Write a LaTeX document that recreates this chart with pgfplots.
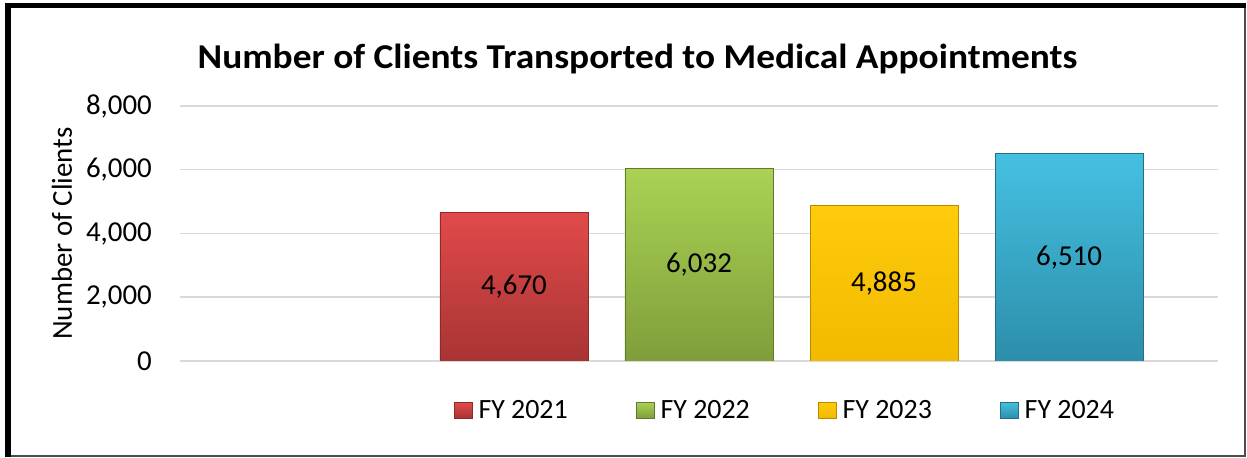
\documentclass[border=0pt]{standalone}
\usepackage{pgfplots}
\pgfplotsset{compat=1.18}
\usepackage{fontspec}
\setmainfont{Carlito}
\newfontfamily\titlefont{Carlito}[FakeStretch=1.072]
\definecolor{gridc}{HTML}{D9D9D9}
\definecolor{rtop}{HTML}{E24A4A}\definecolor{rbot}{HTML}{A83434}\definecolor{rdr}{HTML}{8C2A2A}
\definecolor{gtop}{HTML}{AAD254}\definecolor{gbot}{HTML}{7F9E3A}\definecolor{gdr}{HTML}{5F7A2A}
\definecolor{ytop}{HTML}{FFCB0A}\definecolor{ybot}{HTML}{F2BA00}\definecolor{ydr}{HTML}{B88A00}
\definecolor{btop}{HTML}{45C0E2}\definecolor{bbot}{HTML}{2C8EAA}\definecolor{bdr}{HTML}{236F86}
\begin{document}
\begin{tikzpicture}[x=1bp,y=1bp]
\path[use as bounding box] (-180,-97) rectangle (1067,361);
\fill[white] (-180,-97) rectangle (1067,361);
\begin{axis}[
  at={(0,0)}, anchor=south west,
  scale only axis, width=1038bp, height=255bp,
  xmin=-0.805, xmax=4.805, ymin=0, ymax=8000,
  ybar, bar width=0.8,
  xtick=\empty,
  ytick={0,2000,4000,6000,8000},
  ymajorgrids, grid style={gridc, line width=1.5bp},
  axis line style={draw=none},
  major tick length=0pt,
  /pgf/number format/.cd, 1000 sep={,}, assume math mode=true, /pgfplots/.cd,
  tick label style={font=\fontsize{29}{34}\selectfont},
  yticklabel style={anchor=east, inner sep=0pt, xshift=-28bp},
  ylabel={Number of Clients},
  ylabel style={at={(axis description cs:-0.1137,0.5)}, anchor=center, font=\fontsize{29}{34}\selectfont},
  nodes near coords,
  point meta=y,
  visualization depends on=y \as \rawy,
  every node near coord/.append style={font=\fontsize{29}{34}\selectfont, anchor=center, shift={(axis direction cs:0,-\rawy/2)}},
  legend columns=4,
  legend image code/.code={\draw[#1] (0bp,-8bp) rectangle (18bp,8bp);},
  legend style={at={(rel axis cs:0.2635,-0.193)}, anchor=west, draw=none, fill=none,
    inner sep=0pt, font=\fontsize{28}{32}\selectfont,
    nodes={inner sep=2bp},
    /tikz/every odd column/.append style={column sep=4bp},
    /tikz/every even column/.append style={column sep=66bp}},
]
\addplot[bar shift=0pt, top color=rtop, bottom color=rbot, draw=rdr, line width=0.8bp] coordinates {(1,4670)};
\addplot[bar shift=0pt, top color=gtop, bottom color=gbot, draw=gdr, line width=0.8bp] coordinates {(2,6032)};
\addplot[bar shift=0pt, top color=ytop, bottom color=ybot, draw=ydr, line width=0.8bp] coordinates {(3,4885)};
\addplot[bar shift=0pt, top color=btop, bottom color=bbot, draw=bdr, line width=0.8bp] coordinates {(4,6510)};
\legend{FY 2021, FY 2022, FY 2023, FY 2024}
\end{axis}
\node[font=\titlefont\bfseries\fontsize{35}{40}\selectfont, anchor=base, inner sep=0pt] at (457.5,292.7) {Number of Clients Transported to Medical Appointments};
\fill[black] (-175,-96) rectangle (-169,358);
\fill[black] (-175,358) rectangle (1066,353);
\draw[black!70, line width=1.2bp] (1065,353) -- (1065,-95) -- (-169,-95);
\end{tikzpicture}
\end{document}
